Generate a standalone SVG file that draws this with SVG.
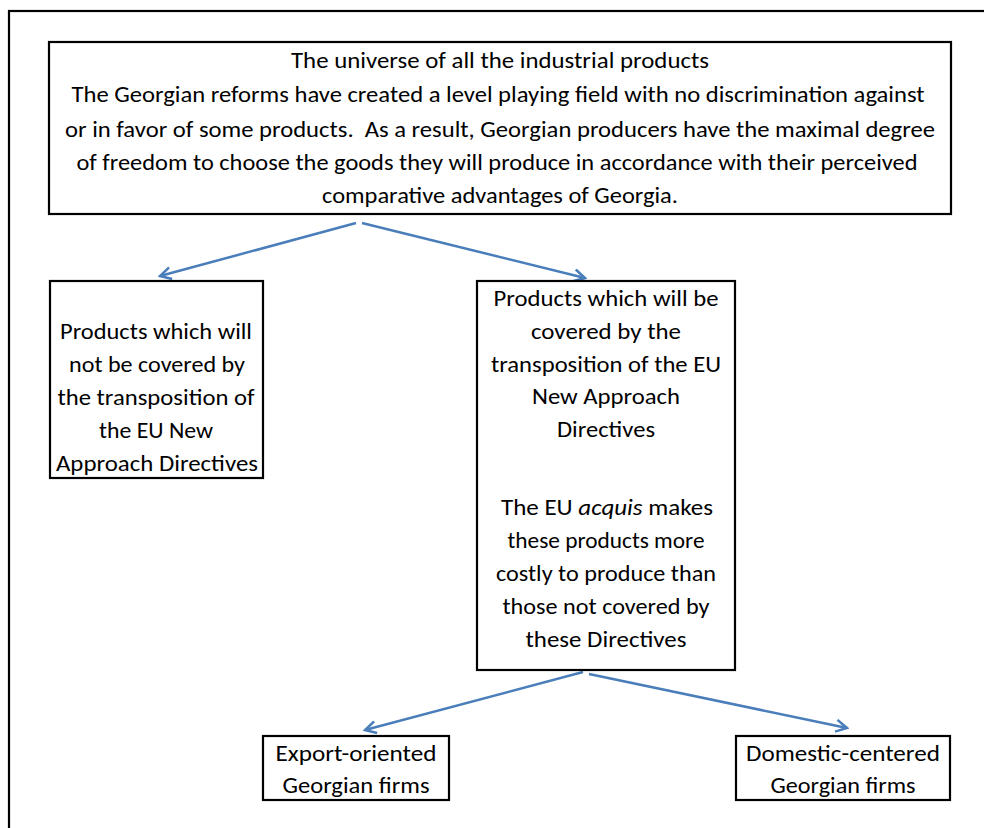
<svg xmlns="http://www.w3.org/2000/svg" width="984" height="828" viewBox="0 0 984 828">
<style>
.box{fill:#fff;stroke:#000;stroke-width:2.2}
.frame{fill:none;stroke:#000;stroke-width:2.2}
text{font-family:Carlito,Lato,"Open Sans","Liberation Sans",sans-serif;font-size:22px;fill:#000;text-anchor:middle}
.conn{stroke:#4a7ebb;stroke-width:2.5;fill:none;marker-end:url(#ah)}
</style>
<defs>
<marker id="ah" viewBox="0 0 14 14" refX="12" refY="7" markerWidth="14" markerHeight="14" markerUnits="userSpaceOnUse" orient="auto">
<path d="M1,1 L12,7 L1,13" fill="none" stroke="#4a7ebb" stroke-width="2.5"/>
</marker>
</defs>
<rect width="984" height="828" fill="#fff"/>
<rect class="frame" x="9" y="11" width="1000" height="840"/>
<g id="connectors">
<line class="conn" x1="356" y1="223" x2="160" y2="276"/>
<line class="conn" x1="362" y1="223" x2="585" y2="278"/>
<line class="conn" x1="583" y1="672" x2="365" y2="730"/>
<line class="conn" x1="589" y1="674" x2="847" y2="728"/>
</g>
<g id="universe">
<rect class="box" x="49" y="42" width="902" height="172"/>
<text x="500" y="68" textLength="418" lengthAdjust="spacingAndGlyphs">The universe of all the industrial products</text>
<text x="498" y="102" textLength="853" lengthAdjust="spacingAndGlyphs">The Georgian reforms have created a level playing field with no discrimination against</text>
<text x="500" y="137" textLength="870" lengthAdjust="spacingAndGlyphs" xml:space="preserve">or in favor of some products.  As a result, Georgian producers have the maximal degree</text>
<text x="497" y="170" textLength="841" lengthAdjust="spacingAndGlyphs">of freedom to choose the goods they will produce in accordance with their perceived</text>
<text x="500" y="203" textLength="356" lengthAdjust="spacingAndGlyphs">comparative advantages of Georgia.</text>
</g>
<g id="not-covered">
<rect class="box" x="50" y="281" width="213" height="197"/>
<text x="156" y="339" textLength="192" lengthAdjust="spacingAndGlyphs">Products which will</text>
<text x="157" y="372" textLength="176" lengthAdjust="spacingAndGlyphs">not be covered by</text>
<text x="156" y="405" textLength="197" lengthAdjust="spacingAndGlyphs">the transposition of</text>
<text x="156" y="438" textLength="114" lengthAdjust="spacingAndGlyphs">the EU New</text>
<text x="157" y="471" textLength="202" lengthAdjust="spacingAndGlyphs">Approach Directives</text>
</g>
<g id="covered">
<rect class="box" x="477" y="281" width="258" height="389"/>
<text x="606" y="306" textLength="225" lengthAdjust="spacingAndGlyphs">Products which will be</text>
<text x="606" y="339" textLength="150" lengthAdjust="spacingAndGlyphs">covered by the</text>
<text x="606" y="372" textLength="230" lengthAdjust="spacingAndGlyphs">transposition of the EU</text>
<text x="606" y="404" textLength="148" lengthAdjust="spacingAndGlyphs">New Approach</text>
<text x="606" y="437" textLength="98" lengthAdjust="spacingAndGlyphs">Directives</text>
<text x="607" y="515" textLength="212" lengthAdjust="spacingAndGlyphs">The EU <tspan font-style="italic">acquis</tspan> makes</text>
<text x="606" y="548" textLength="197" lengthAdjust="spacingAndGlyphs">these products more</text>
<text x="606" y="581" textLength="220" lengthAdjust="spacingAndGlyphs">costly to produce than</text>
<text x="606" y="614" textLength="207" lengthAdjust="spacingAndGlyphs">those not covered by</text>
<text x="606" y="647" textLength="161" lengthAdjust="spacingAndGlyphs">these Directives</text>
</g>
<g id="export">
<rect class="box" x="263" y="736" width="186" height="64"/>
<text x="356" y="761" textLength="161" lengthAdjust="spacingAndGlyphs">Export-oriented</text>
<text x="356" y="793" textLength="147" lengthAdjust="spacingAndGlyphs">Georgian firms</text>
</g>
<g id="domestic">
<rect class="box" x="736" y="736" width="214" height="64"/>
<text x="843" y="761" textLength="194" lengthAdjust="spacingAndGlyphs">Domestic-centered</text>
<text x="843" y="793" textLength="145" lengthAdjust="spacingAndGlyphs">Georgian firms</text>
</g>
</svg>
